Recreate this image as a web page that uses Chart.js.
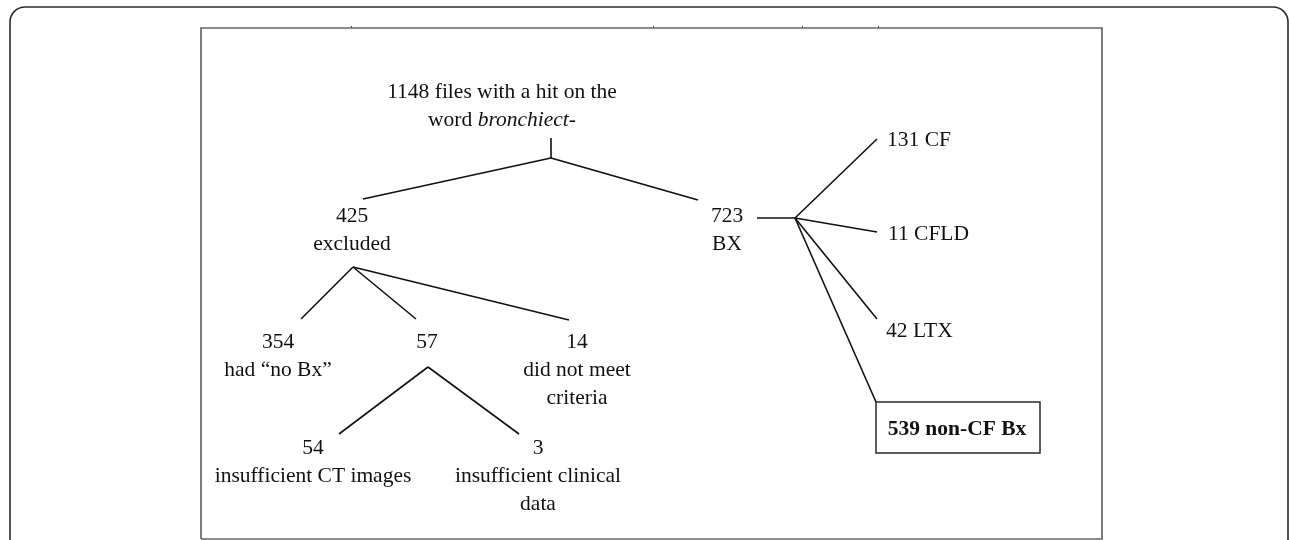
<!DOCTYPE html>
<html>
<head>
<meta charset="utf-8">
<script src="https://cdn.jsdelivr.net/npm/chart.js@4"></script>
<style>
html,body{margin:0;padding:0;background:#fff;}
#wrap{width:1290px;height:540px;}
</style>
</head>
<body>
<div id="wrap"><canvas id="c" width="1290" height="540"></canvas></div>
<script>
// ---- data ----
const nodeNames  = ["files", "excluded", "bx", "noBx", "other", "criteria", "ctImages", "clinical", "cf", "cfld", "ltx", "nonCF"];
const nodeCounts = [1148, 425, 723, 354, 57, 14, 54, 3, 131, 11, 42, 539];
const nodeText   = [
  ["files with a hit on the", "word _bronchiect_-"],
  ["excluded"],
  ["BX"],
  ["had \u201cno Bx\u201d"],
  [],
  ["did not meet", "criteria"],
  ["insufficient CT images"],
  ["insufficient clinical", "data"],
  ["CF"], ["CFLD"], ["LTX"], ["non-CF Bx"]
];
const inlineNodes = [0, 8, 9, 10, 11];   // count shares the first line
const edgesFrom = ["files", "files", "bx", "bx", "bx", "bx", "excluded", "excluded", "excluded", "other", "other"];
const edgesTo   = ["excluded", "bx", "cf", "cfld", "ltx", "nonCF", "noBx", "other", "criteria", "ctImages", "clinical"];

// ---- layout (pixel space of the 1290x540 frame) ----
const layout = {
  text: {
    files:    {x: 502, y: 92,  align: "center"},
    excluded: {x: 352, y: 216, align: "center"},
    bx:       {x: 727, y: 216, align: "center"},
    noBx:     {x: 278, y: 342, align: "center"},
    other:    {x: 427, y: 342, align: "center"},
    criteria: {x: 577, y: 342, align: "center"},
    ctImages: {x: 313, y: 448, align: "center"},
    clinical: {x: 538, y: 448, align: "center"},
    cf:       {x: 887, y: 140, align: "left"},
    cfld:     {x: 888, y: 234, align: "left"},
    ltx:      {x: 886, y: 331, align: "left"},
    nonCF:    {x: 957, y: 429, align: "center", bold: true}
  },
  out: { // where edges leave a node
    files: [[551, 138], [551, 158]],
    bx: [[757, 218], [795, 218]],
    excluded: [[353, 267]],
    other: [[428, 367]]
  },
  in: { // where edges arrive
    excluded: [363, 199], bx: [698, 200], cf: [877, 139], cfld: [877, 232],
    ltx: [877, 319], nonCF: [876, 402], noBx: [301, 319], other: [416, 319],
    criteria: [569, 320], ctImages: [339, 434], clinical: [519, 434]
  },
  box: [876, 402, 1040, 453],
  frame: [201, 28, 1102, 539],
  outer: [10, 7, 1288, 560, 15],
  ticks: [351, 653, 802, 878],
  lineGap: 28.3,
  font: "21.5px 'Liberation Serif', 'Times New Roman', serif"
};

// ---- build datasets ----
const datasets = [];
function seg(a, b, color, width) {
  datasets.push({
    data: [{x: a[0], y: a[1]}, {x: b[0], y: b[1]}],
    showLine: true, borderColor: color, borderWidth: width,
    pointRadius: 0, pointHoverRadius: 0, fill: false
  });
}
// stems
const usedStem = {};
edgesFrom.forEach((f, i) => {
  const o = layout.out[f];
  if (o.length > 1 && !usedStem[f]) { seg(o[0], o[1], "#111", 1.6); usedStem[f] = true; }
  const start = o[o.length - 1];
  seg(start, layout.in[edgesTo[i]], "#111", 1.6);
});
// result box
const bx = layout.box;
datasets.push({
  data: [{x: bx[0], y: bx[1]}, {x: bx[2], y: bx[1]}, {x: bx[2], y: bx[3]}, {x: bx[0], y: bx[3]}, {x: bx[0], y: bx[1]}],
  showLine: true, borderColor: "#2a2a2a", borderWidth: 1.5, pointRadius: 0, fill: false
});
// inner frame
const fr = layout.frame;
datasets.push({
  data: [{x: fr[0], y: fr[3]}, {x: fr[0], y: fr[1]}, {x: fr[2], y: fr[1]}, {x: fr[2], y: fr[3]}, {x: fr[0], y: fr[3]}],
  showLine: true, borderColor: "#666", borderWidth: 1.7, pointRadius: 0, fill: false
});

// ---- plugins ----
const decor = {
  id: "decor",
  beforeDatasetsDraw(chart) {
    const {ctx, scales: {x, y}} = chart;
    const [l, t, r, b, rad] = layout.outer;
    const L = x.getPixelForValue(l), T = y.getPixelForValue(t), R = x.getPixelForValue(r), B = y.getPixelForValue(b);
    ctx.save();
    ctx.strokeStyle = "#2b2b2b"; ctx.lineWidth = 1.6;
    ctx.beginPath();
    ctx.moveTo(L, B);
    ctx.lineTo(L, T + rad);
    ctx.arcTo(L, T, L + rad, T, rad);
    ctx.lineTo(R - rad, T);
    ctx.arcTo(R, T, R, T + rad, rad);
    ctx.lineTo(R, B);
    ctx.stroke();
    ctx.strokeStyle = "#444"; ctx.lineWidth = 1;
    layout.ticks.forEach(tx => {
      const px = Math.round(x.getPixelForValue(tx)) + 0.5;
      const py = y.getPixelForValue(layout.frame[1]);
      ctx.beginPath(); ctx.moveTo(px, py - 2); ctx.lineTo(px, py); ctx.stroke();
    });
    ctx.restore();
  },
  afterDatasetsDraw(chart) {
    const {ctx, scales: {x, y}} = chart;
    ctx.save();
    ctx.fillStyle = "#111";
    ctx.textBaseline = "middle";
    nodeNames.forEach((name, i) => {
      const pos = layout.text[name];
      let lines = nodeText[i].slice();
      if (inlineNodes.includes(i)) {
        lines[0] = nodeCounts[i] + " " + lines[0];
      } else {
        lines.unshift(String(nodeCounts[i]));
      }
      const base = pos.bold ? "bold " + layout.font : layout.font;
      lines.forEach((line, k) => {
        const parts = line.split("_").map((s, j) => ({s, it: j % 2 === 1}));
        const widths = parts.map(p => { ctx.font = (p.it ? "italic " : "") + base; return ctx.measureText(p.s).width; });
        const total = widths.reduce((a, c) => a + c, 0);
        let px = x.getPixelForValue(pos.x);
        if (pos.align === "center") px -= total / 2;
        const py = y.getPixelForValue(pos.y + k * layout.lineGap);
        ctx.textAlign = "left";
        parts.forEach((p, j) => {
          ctx.font = (p.it ? "italic " : "") + base;
          ctx.fillText(p.s, px, py);
          px += widths[j];
        });
      });
    });
    ctx.restore();
  }
};

new Chart(document.getElementById("c"), {
  type: "scatter",
  data: {datasets},
  options: {
    responsive: false, animation: false, devicePixelRatio: 1,
    layout: {padding: 0},
    plugins: {legend: {display: false}, tooltip: {enabled: false}},
    events: [],
    scales: {
      x: {type: "linear", min: 0, max: 1290, display: false},
      y: {type: "linear", min: 0, max: 540, reverse: true, display: false}
    },
    elements: {line: {tension: 0}}
  },
  plugins: [decor]
});
</script>
</body>
</html>
